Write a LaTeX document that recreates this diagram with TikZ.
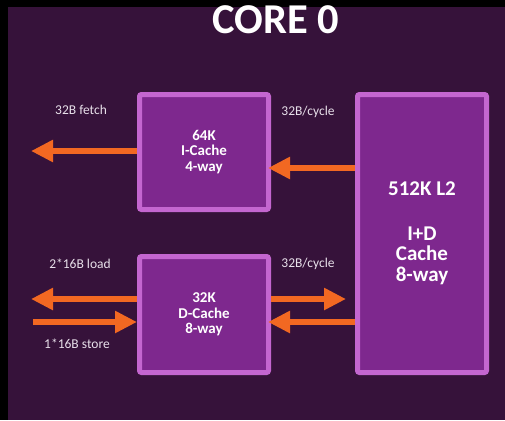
\documentclass[tikz,border=0pt]{standalone}
\usepackage{fontspec}
\setmainfont{Carlito}
\usetikzlibrary{arrows.meta, positioning}
\definecolor{corebg}{RGB}{54,18,58}
\definecolor{cachefill}{RGB}{126,40,142}
\definecolor{cacheedge}{RGB}{196,102,208}
\definecolor{busorange}{RGB}{242,104,34}
\definecolor{labeltext}{RGB}{232,224,234}
\tikzset{
  cache/.style={rectangle, rounded corners=2pt, line width=5pt,
    draw=cacheedge, fill=cachefill, text=white, align=center,
    minimum width=129pt, font=\fontsize{15}{15.5}\selectfont\bfseries},
  bus/.style={line width=6.5pt, draw=busorange,
    -{Triangle[width=21pt,length=22pt]}},
  buslabel/.style={text=labeltext, font=\fontsize{13.5}{15}\selectfont}
}
\begin{document}
\begin{tikzpicture}[x=1pt, y=-1pt]
  % Hintergrund
  \fill[black] (0,0) rectangle (505,420);
  \fill[corebg] (8,7) rectangle (505,420);
  \useasboundingbox (0,0) rectangle (505,420);

  \node[anchor=base, text=white, font=\fontsize{42.5}{44}\selectfont\bfseries] (title) at (276,33.5) {CORE 0};

  % Caches
  \node (icache) [cache, minimum height=115pt] at (204,152) {64K\\I-Cache\\4-way};
  \node (dcache) [cache, minimum height=116pt] at (204,314.5) {32K\\D-Cache\\8-way};
  \node (l2) [cache, minimum height=278pt, font=\fontsize{21}{20.5}\selectfont\bfseries] at (422,233.5) {512K L2\\[24pt]I+D\\Cache\\8-way};

  % Enden
  \coordinate (fetchend) at (31,151);
  \coordinate (loadend) at (31,299);
  \coordinate (storestart) at (33,322);

  % Busse
  \draw[bus] (icache.west |- fetchend) -- (fetchend);
  \draw[bus, shorten >=-3pt] (l2.west |- 0,168) -- (icache.east |- 0,168);
  \draw[bus] (dcache.west |- loadend) -- (loadend);
  \draw[bus] (storestart) -- (dcache.west |- storestart);
  \draw[bus, shorten >=9pt] (dcache.east |- 0,299) -- (l2.west |- 0,299);
  \draw[bus, shorten >=-3pt] (l2.west |- 0,322) -- (dcache.east |- 0,322);

  % Beschriftungen
  \node[buslabel] (fetchlbl) at (81,110) {32B fetch};
  \node[buslabel] (icyclbl) at (308,112) {32B/cycle};
  \node[buslabel] (loadlbl) at (80,264) {2*16B load};
  \node[buslabel] (dcyclbl) at (308,264) {32B/cycle};
  \node[buslabel] (storelbl) at (77,344) {1*16B store};
\end{tikzpicture}
\end{document}
